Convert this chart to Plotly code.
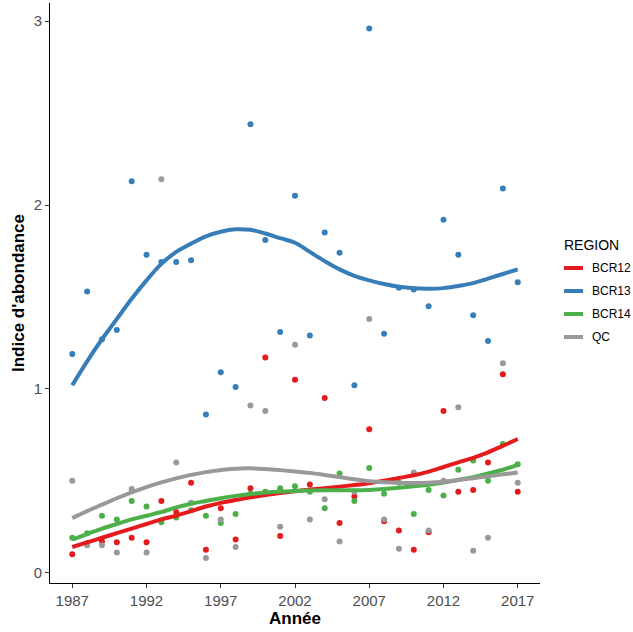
import plotly.graph_objects as go

# Years of the survey
years = list(range(1987, 2018))

# Abundance index per region, one value per year
bcr12 = [0.10, 0.16, 0.17, 0.165, 0.19, 0.165, 0.39, 0.33, 0.49, 0.125,
         0.35, 0.18, 0.46, 1.17, 0.20, 1.05, 0.48, 0.95, 0.27, 0.415,
         0.78, 0.28, 0.23, 0.125, 0.22, 0.88, 0.44, 0.45, 0.60, 1.08, 0.44]
bcr13 = [1.19, 1.53, 1.27, 1.32, 2.13, 1.73, 1.69, 1.69, 1.70, 0.86,
         1.09, 1.01, 2.44, 1.81, 1.31, 2.05, 1.29, 1.85, 1.74, 1.02,
         2.96, 1.30, 1.55, 1.54, 1.45, 1.92, 1.73, 1.40, 1.26, 2.09, 1.58]
bcr14 = [0.19, 0.215, 0.31, 0.29, 0.39, 0.36, 0.275, 0.30, 0.34, 0.31,
         0.27, 0.32, 0.43, 0.44, 0.46, 0.47, 0.44, 0.35, 0.54, 0.39,
         0.57, 0.43, 0.49, 0.32, 0.45, 0.42, 0.56, 0.61, 0.50, 0.70, 0.59]
qc = [0.50, 0.15, 0.15, 0.11, 0.455, 0.11, 2.14, 0.60, 0.38, 0.08,
      0.29, 0.14, 0.91, 0.88, 0.25, 1.24, 0.29, 0.40, 0.17, 0.44,
      1.38, 0.29, 0.13, 0.545, 0.23, 0.50, 0.90, 0.12, 0.19, 1.14, 0.49]

# Smoothed trend of each region, one value per year
bcr12_trend = [0.14, 0.165, 0.19, 0.215, 0.24, 0.265, 0.29, 0.31, 0.335, 0.36,
               0.38, 0.395, 0.41, 0.422, 0.433, 0.443, 0.452, 0.46, 0.468, 0.477,
               0.487, 0.50, 0.515, 0.53, 0.55, 0.575, 0.60, 0.625, 0.655, 0.69, 0.727]
bcr13_trend = [1.02, 1.15, 1.27, 1.38, 1.49, 1.59, 1.68, 1.745, 1.79, 1.83,
               1.855, 1.868, 1.865, 1.845, 1.82, 1.795, 1.745, 1.695, 1.65, 1.615,
               1.59, 1.57, 1.555, 1.547, 1.545, 1.548, 1.56, 1.575, 1.60, 1.625, 1.65]
bcr14_trend = [0.18, 0.21, 0.24, 0.265, 0.29, 0.31, 0.33, 0.355, 0.375, 0.39,
               0.405, 0.418, 0.428, 0.436, 0.441, 0.445, 0.447, 0.448, 0.448, 0.448,
               0.45, 0.455, 0.462, 0.47, 0.478, 0.49, 0.505, 0.52, 0.54, 0.56, 0.587]
qc_trend = [0.297, 0.335, 0.37, 0.405, 0.437, 0.466, 0.491, 0.513, 0.532, 0.547,
            0.559, 0.566, 0.568, 0.564, 0.558, 0.551, 0.543, 0.532, 0.52, 0.508,
            0.498, 0.492, 0.489, 0.488, 0.49, 0.495, 0.504, 0.514, 0.524, 0.535, 0.545]

regions = ["BCR12", "BCR13", "BCR14", "QC"]
series = [bcr12, bcr13, bcr14, qc]
trends = [bcr12_trend, bcr13_trend, bcr14_trend, qc_trend]
colors = ["#E41A1C", "#377EB8", "#4DAF4A", "#999999"]

FONT = "Liberation Sans, Arial, sans-serif"

fig = go.Figure()

# Yearly observations
for name, vals, col in zip(regions, series, colors):
    fig.add_trace(go.Scatter(
        x=years, y=vals, mode="markers", name=name,
        marker=dict(color=col, size=6, line=dict(width=0)),
        showlegend=False))

# Smoothed trends
for name, vals, col in zip(regions, trends, colors):
    fig.add_trace(go.Scatter(
        x=years, y=vals, mode="lines", name=name,
        line=dict(color=col, width=4, shape="spline", smoothing=1.0),
        showlegend=False))

axis_common = dict(
    showline=True, linecolor="#000000", linewidth=1,
    ticks="outside", ticklen=4, tickcolor="#333333", tickwidth=1,
    showgrid=False, zeroline=False,
    tickfont=dict(family=FONT, size=15, color="#4D4D4D"),
)

# Legend drawn in paper coordinates to the right of the panel
plot_l, plot_r, plot_t, plot_b = 50, 540, 3, 583


def px_x(px):
    return (px - plot_l) / (plot_r - plot_l)


def px_y(py):
    return (plot_b - py) / (plot_b - plot_t)


shapes = []
annotations = [dict(
    text="REGION", xref="paper", yref="paper",
    x=px_x(562), y=px_y(245), xanchor="left", yanchor="middle",
    showarrow=False, font=dict(family=FONT, size=14, color="#000000"))]
for i, (name, col) in enumerate(zip(regions, colors)):
    yy = px_y(268 + i * 23)
    shapes.append(dict(
        type="line", xref="paper", yref="paper",
        x0=px_x(564), x1=px_x(583), y0=yy, y1=yy,
        line=dict(color=col, width=4)))
    annotations.append(dict(
        text=name, xref="paper", yref="paper",
        x=px_x(590), y=yy, xanchor="left", yanchor="middle",
        showarrow=False, font=dict(family=FONT, size=12, color="#000000")))

fig.update_layout(
    width=633, height=632,
    margin=dict(l=plot_l, r=633 - plot_r, t=plot_t, b=632 - plot_b),
    paper_bgcolor="white", plot_bgcolor="white",
    font=dict(family=FONT, color="#000000"),
    showlegend=False,
    xaxis=dict(range=[1985.5, 2018.5], tickvals=list(range(1987, 2018, 5)),
               title=dict(text="<b>Année</b>", font=dict(size=17), standoff=2),
               **axis_common),
    yaxis=dict(range=[-0.056, 3.099], tickvals=[0, 1, 2, 3],
               title=dict(text="<b>Indice d'abondance</b>", font=dict(size=17), standoff=4),
               **axis_common),
    shapes=shapes,
    annotations=annotations,
)

fig.write_html("out.html")
